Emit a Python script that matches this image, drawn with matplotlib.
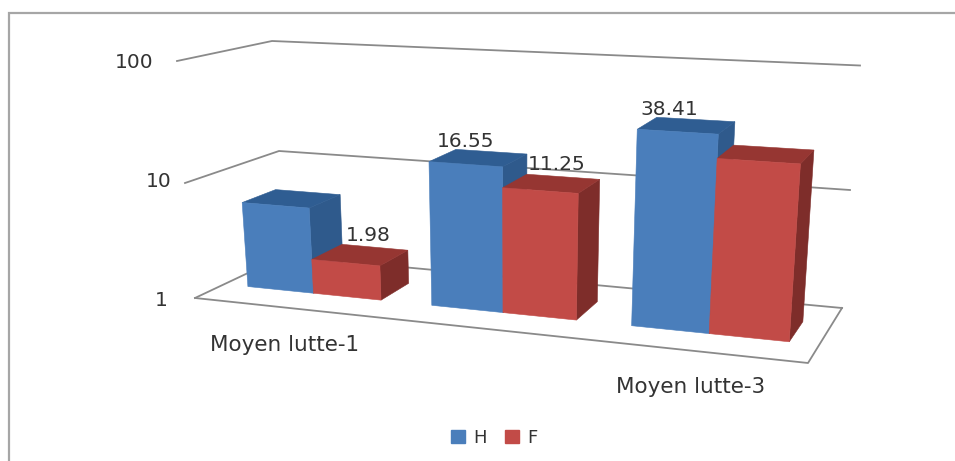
import numpy as np
import matplotlib
matplotlib.use("Agg")
import matplotlib.pyplot as plt
from matplotlib.patches import Polygon, Patch

# --- data ---
categories = ["Moyen lutte-1", "Moyen lutte-2", "Moyen lutte-3"]
series_names = ["H", "F"]
values_h = [5.6, 16.55, 38.41]
values_f = [1.98, 11.25, 25.0]
labels_h = [None, "16.55", "38.41"]
labels_f = ["1.98", "11.25", None]
axis_ticks = [1, 10, 100]
shown_categories = [0, 2]

# --- projection of the 3D box (corner columns, levels for log10 = 0, 1, 2) ---
FL = np.array([[195, 298], [185, 183], [177, 61]], float)
FR = np.array([[808, 363], [817, 233], [826, 96]], float)
BL = np.array([[284, 256], [279, 151], [272, 41]], float)
BR = np.array([[842, 308], [850, 190], [860, 65.5]], float)
PERSP = 0.881


def col(c, lv):
    return np.array([np.interp(lv, [0, 1, 2], c[:, 0]), np.interp(lv, [0, 1, 2], c[:, 1])])


def proj(t, value, z):
    """t: position along categories (0-1), value: axis value, z: depth 0-1."""
    u = t * PERSP / (1 - t + t * PERSP)
    lv = np.log10(value)
    front = col(FL, lv) * (1 - u) + col(FR, lv) * u
    back = col(BL, lv) * (1 - u) + col(BR, lv) * u
    return tuple(front * (1 - z) + back * z)


fig = plt.figure(figsize=(9.55, 4.61), dpi=100, facecolor="white")
ax = fig.add_axes([0, 0, 1, 1])
ax.set_xlim(0, 955)
ax.set_ylim(461, 0)
ax.axis("off")
plt.rcParams["font.family"] = "DejaVu Sans"

TXT = "#333333"
GRID = "#8a8a8a"

# outer chart frame (top + left visible)
ax.plot([9, 9, 955], [461, 13, 13], color="#a6a6a6", lw=1.6, solid_joinstyle="miter", zorder=1)

# gridlines on left and back wall, floor
for tick in axis_ticks:
    pts = [proj(0, tick, 0), proj(0, tick, 1), proj(1, tick, 1)]
    ax.plot(*zip(*pts), color=GRID, lw=1.3, zorder=2)
ax.plot(*zip(proj(0, 1, 0), proj(1, 1, 0), proj(1, 1, 1)), color=GRID, lw=1.3, zorder=2)

# bars
Z0, Z1 = 0.33, 0.70
HALF = 0.122
colors = {
    "H": ("#4a7ebb", "#2f5d92", "#2f5a8c"),
    "F": ("#c24b47", "#963632", "#7e2d2a"),
}
order = 3
for i in range(len(categories)):
    c = (i + 0.5) / len(categories)
    for name, vals, t0, t1 in (("H", values_h, c - HALF, c), ("F", values_f, c, c + HALF)):
        v = vals[i]
        fc, tc, sc = colors[name]
        top = [proj(t0, v, Z0), proj(t1, v, Z0), proj(t1, v, Z1), proj(t0, v, Z1)]
        side = [proj(t1, 1, Z0), proj(t1, v, Z0), proj(t1, v, Z1), proj(t1, 1, Z1)]
        front = [proj(t0, 1, Z0), proj(t1, 1, Z0), proj(t1, v, Z0), proj(t0, v, Z0)]
        for poly, col_ in ((side, sc), (top, tc), (front, fc)):
            ax.add_patch(Polygon(poly, closed=True, facecolor=col_, edgecolor=col_, lw=0.4, zorder=order))
            order += 1

# data labels: anchored on the bar top
FS = 14.5
offsets = {"H": (-26, -10), "F": (-6, -12)}
for i in range(len(categories)):
    c = (i + 0.5) / len(categories)
    for name, vals, labs, tc_ in (("H", values_h, labels_h, c - HALF / 2), ("F", values_f, labels_f, c + HALF / 2)):
        if labs[i] is None:
            continue
        x, y = proj(tc_, vals[i], Z1)
        dx, dy = offsets[name]
        ax.text(x + dx, y + dy, labs[i], ha="center", va="center", fontsize=FS, color=TXT, zorder=100)

# value axis labels
tick_right = [168, 172, 153]
tick_y = [300, 181, 63]
for tick, xr, yy in zip(axis_ticks, tick_right, tick_y):
    ax.text(xr, yy, str(tick), ha="right", va="center", fontsize=FS, color=TXT, zorder=100)

# category labels (every other one is shown)
cat_pos = {0: (285, 345), 2: (691, 387)}
for i in shown_categories:
    ax.text(*cat_pos[i], categories[i], ha="center", va="center", fontsize=15.5, color=TXT, zorder=100)

# legend
handles = [Patch(color=colors[n][0], label=n) for n in series_names]
ax.legend(handles=handles, ncol=2, frameon=False, loc="center",
          bbox_to_anchor=(494, 438), bbox_transform=ax.transData,
          fontsize=13, handlelength=0.8, handleheight=0.7, handletextpad=0.45,
          columnspacing=1.0, labelcolor=TXT, borderpad=0)

fig.savefig("out.png", dpi=100, facecolor="white")
